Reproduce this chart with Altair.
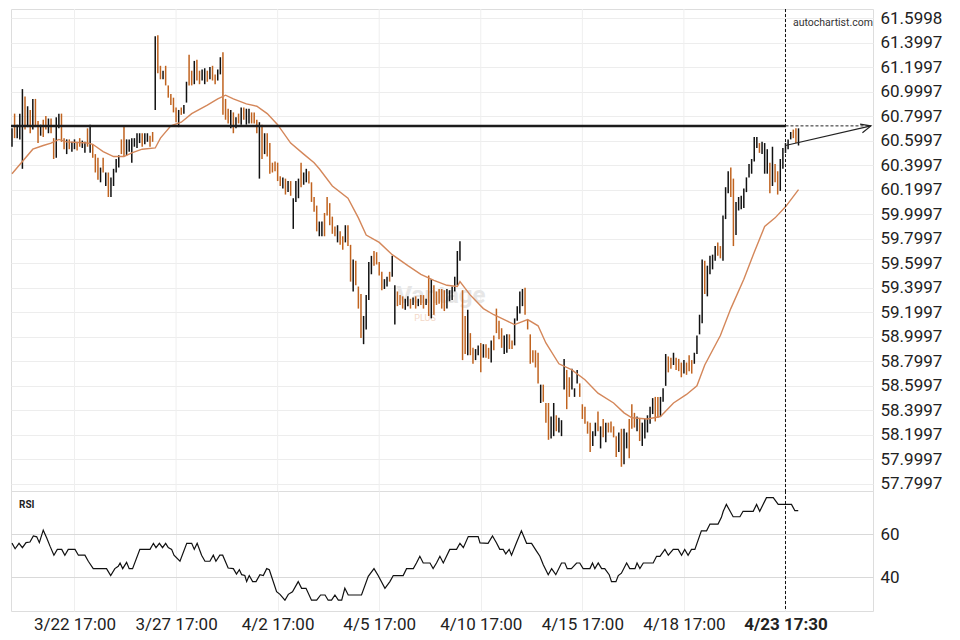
import altair as alt
import pandas as pd

# ---------------- data ----------------
tick_idx = [24, 63, 102, 141, 180, 219, 258, 297]
tick_lab = ["3/22 17:00", "3/27 17:00", "4/2 17:00", "4/5 17:00",
            "4/10 17:00", "4/15 17:00", "4/18 17:00", "4/23 17:30"]
price_ticks = [61.5998, 61.3997, 61.1997, 60.9997, 60.7997, 60.5997, 60.3997,
               60.1997, 59.9997, 59.7997, 59.5997, 59.3997, 59.1997, 58.9997,
               58.7997, 58.5997, 58.3997, 58.1997, 57.9997, 57.7997]
rsi_ticks = [60, 40]

level = 60.72
marker_idx = 297
arrow_idx = [297, 329.8]
arrow_val = [60.56, 60.72]

bar_high = [
    60.70, 60.82, 60.73, 60.82, 61.02, 60.96, 60.88, 60.85, 60.94, 60.94,
    60.76, 60.73, 60.77, 60.80, 60.78, 60.78, 60.62, 60.79, 60.82, 60.82,
    60.62, 60.61, 60.61, 60.59, 60.61, 60.59, 60.62, 60.60, 60.59, 60.70,
    60.73, 60.57, 60.49, 60.46, 60.38, 60.46, 60.34, 60.34, 60.30, 60.37,
    60.45, 60.48, 60.61, 60.72, 60.61, 60.61, 60.62, 60.62, 60.66, 60.66,
    60.66, 60.66, 60.66, 60.64, 60.67, 61.45, 61.46, 61.21, 61.17,
    61.21, 61.05, 60.98, 60.95, 60.87, 60.85, 60.87, 60.89, 61.08, 61.30,
    61.17, 61.25, 61.26, 61.17, 61.18, 61.19, 61.17, 61.20, 61.21, 61.14,
    61.18, 61.28, 61.32, 60.94, 60.86, 60.85, 60.83, 60.79, 60.82, 60.87,
    60.87, 60.86, 60.86, 60.83, 60.83, 60.77, 60.75, 60.73, 60.66, 60.66,
    60.58, 60.42, 60.43, 60.42, 60.31, 60.30, 60.29, 60.27, 60.27, 60.13,
    60.27, 60.29, 60.42, 60.34, 60.37, 60.35, 60.26, 60.14, 60.07, 59.94,
    59.94, 60.01, 60.14,
    60.09, 59.98, 59.90, 59.91, 59.86, 59.82, 59.91, 59.91, 59.75, 59.63,
    59.62, 59.41, 59.35, 59.17, 59.34, 59.61, 59.66, 59.70, 59.69, 59.61,
    59.53, 59.47, 59.49, 59.53, 59.66, 59.42, 59.37, 59.34, 59.33, 59.31,
    59.33, 59.31, 59.32, 59.33, 59.31, 59.34, 59.34, 59.31, 59.50, 59.47,
    59.42, 59.37, 59.39, 59.39, 59.38, 59.39, 59.38, 59.41, 59.49, 59.70,
    59.78,
    59.38, 59.17, 59.22, 59.03, 58.91, 58.90, 58.93, 58.95, 58.94, 58.94,
    58.91, 58.97, 59.01, 59.23, 59.13, 59.07, 59.01, 59.02, 59.02, 58.97,
    59.15, 59.25, 59.37, 59.39,
    59.40, 59.14, 59.02, 58.89, 58.89, 58.87, 58.61, 58.61, 58.46, 58.46,
    58.35, 58.46, 58.36, 58.34, 58.32, 58.82, 58.73, 58.67, 58.74, 58.58,
    58.73, 58.62, 58.45, 58.43, 58.31, 58.30, 58.23, 58.30, 58.39, 58.27,
    58.33, 58.30, 58.30, 58.31, 58.27, 58.19, 58.22, 58.25, 58.25, 58.22,
    58.33, 58.45, 58.38, 58.35, 58.33, 58.30, 58.33, 58.36,
    58.43, 58.50, 58.51, 58.51, 58.51, 58.58,
    58.86, 58.84, 58.83, 58.87, 58.83, 58.82, 58.79, 58.81, 58.79, 58.85,
    58.81, 58.87, 59.01, 59.18, 59.63, 59.62, 59.58, 59.66, 59.67, 59.74,
    59.77, 59.74, 59.99, 60.22, 60.35, 60.38, 60.29, 60.10, 60.14, 60.15,
    60.21, 60.30, 60.41, 60.45, 60.63, 60.63, 60.58, 60.59, 60.58, 60.53,
    60.42, 60.55, 60.41, 60.35, 60.45, 60.54, 60.58, 60.61, 60.67, 60.69,
    60.70, 60.70,
]
bar_low = [
    60.55, 60.62, 60.62, 60.61, 60.37, 60.69, 60.71, 60.66, 60.69, 60.71,
    60.58, 60.64, 60.63, 60.69, 60.66, 60.66, 60.45, 60.46, 60.70, 60.59,
    60.53, 60.49, 60.53, 60.51, 60.53, 60.52, 60.55, 60.54, 60.50, 60.55,
    60.50, 60.46, 60.34, 60.28, 60.26, 60.34, 60.23, 60.14, 60.14, 60.23,
    60.34, 60.38, 60.49, 60.47, 60.48, 60.51, 60.42, 60.55, 60.54, 60.58,
    60.55, 60.57, 60.59, 60.55, 60.59, 60.85, 61.15, 61.10, 61.10,
    61.05, 60.95, 60.89, 60.83, 60.75, 60.71, 60.81, 60.82, 60.91, 61.05,
    61.05, 61.06, 61.09, 61.06, 61.09, 61.06, 61.08, 61.10, 61.09, 61.06,
    61.09, 61.14, 60.81, 60.77, 60.74, 60.70, 60.66, 60.70, 60.74, 60.73,
    60.77, 60.73, 60.74, 60.74, 60.74, 60.66, 60.29, 60.45, 60.49, 60.47,
    60.33, 60.34, 60.35, 60.27, 60.23, 60.21, 60.16, 60.18, 60.15, 59.88,
    60.10, 60.13, 60.22, 60.24, 60.26, 60.25, 60.10, 60.02, 59.86, 59.82,
    59.82, 59.82, 59.99,
    59.91, 59.84, 59.82, 59.77, 59.75, 59.71, 59.77, 59.74, 59.45, 59.37,
    59.42, 59.23, 58.99, 58.94, 59.06, 59.30, 59.51, 59.58, 59.59, 59.50,
    59.38, 59.39, 59.41, 59.45, 59.49, 59.10, 59.25, 59.26, 59.23, 59.22,
    59.25, 59.23, 59.26, 59.23, 59.25, 59.26, 59.23, 59.26, 59.17, 59.15,
    59.18, 59.26, 59.27, 59.23, 59.21, 59.23, 59.29, 59.30, 59.37, 59.42,
    59.62,
    58.81, 58.86, 58.85, 58.85, 58.78, 58.81, 58.85, 58.71, 58.83, 58.83,
    58.82, 58.79, 58.89, 59.03, 58.98, 58.91, 58.86, 58.87, 58.90, 58.90,
    58.93, 59.13, 59.19, 59.25,
    59.18, 59.06, 58.78, 58.79, 58.75, 58.62, 58.46, 58.47, 58.30, 58.16,
    58.17, 58.19, 58.23, 58.22, 58.19, 58.57, 58.41, 58.51, 58.57, 58.51,
    58.62, 58.51, 58.33, 58.29, 58.21, 58.06, 58.11, 58.19, 58.23, 58.09,
    58.18, 58.14, 58.22, 58.22, 58.18, 58.02, 58.06, 57.94, 57.96, 58.09,
    58.01, 58.25, 58.26, 58.23, 58.15, 58.11, 58.17, 58.22,
    58.29, 58.37, 58.31, 58.34, 58.35, 58.47,
    58.60, 58.71, 58.74, 58.77, 58.73, 58.72, 58.67, 58.70, 58.69, 58.72,
    58.70, 58.78, 58.86, 59.02, 59.11, 59.35, 59.33, 59.51, 59.55, 59.62,
    59.66, 59.64, 59.62, 59.96, 60.17, 60.14, 59.74, 59.83, 60.03, 60.04,
    60.05, 60.18, 60.30, 60.33, 60.43, 60.54, 60.50, 60.49, 60.33, 60.33,
    60.17, 60.23, 60.26, 60.16, 60.19, 60.37, 60.50, 60.53, 60.61, 60.62,
    60.58, 60.56,
]
# u = rising bar (black), d = falling bar (orange)
bar_dir = list(
    "uduuududud" "duddudduud" "duduudduud" "udddududuu" "uudduuuuuu" "duudduddu"
    "ddddduduud" "dudduududd" "uudddududu" "duudddudud" "dddddududu" "uuduuddddu" "udd"
    "dddudduddu" "ddduuuuddd" "duuduudddu" "udududdudu" "ddddduuuuu" "u"
    "ddudduudud" "dudddduudd" "uuuu"
    "dddddduddd" "uuduuudduu" "uddddduudu" "dudddduduu" "ddduduuu"
    "uudduu"
    "uddudddudd" "duuuuduuuu" "dduuudduuu" "uuuuuuduuu" "dudduuuuud" "du"
)

ma_idx = [0, 4, 8, 12, 15, 18, 21, 29, 31, 35, 39, 43, 46, 50, 55, 57, 61, 65, 69, 75,
          79, 82, 85, 90, 94, 98, 102, 107, 112, 116, 118, 123, 129, 133, 136, 141, 146,
          152, 157, 162, 167, 171, 172, 176, 181, 185, 190, 193, 198, 202, 205, 210,
          215, 220, 225, 231, 235, 238, 244, 249, 254, 259, 263, 266, 272, 276, 281,
          285, 289, 293, 297, 302]
ma_val = [60.33, 60.43, 60.53, 60.56, 60.58, 60.61, 60.59, 60.58, 60.57, 60.51,
          60.47, 60.47, 60.50, 60.53, 60.54, 60.62, 60.72, 60.75, 60.82, 60.89,
          60.94, 60.97, 60.94, 60.90, 60.88, 60.82, 60.73, 60.58, 60.49, 60.42,
          60.37, 60.23, 60.13, 59.97, 59.83, 59.77, 59.67, 59.58, 59.51, 59.46,
          59.42, 59.41, 59.45, 59.34, 59.23, 59.18, 59.13, 59.10, 59.14, 59.09,
          58.95, 58.78, 58.73, 58.65, 58.54, 58.46, 58.38, 58.34, 58.33, 58.35,
          58.46, 58.53, 58.60, 58.77, 59.01, 59.23, 59.47, 59.69, 59.90, 59.97,
          60.06, 60.20]

rsi_idx = [0.0, 1.2, 2.7, 4.0, 5.4, 6.9, 8.2, 9.5, 10.5, 12.0,
           13.3, 14.6, 16.1, 17.4, 19.1, 20.3, 21.6, 24.2, 25.5, 28.0,
           29.3, 31.2, 36.3, 37.9, 39.5, 40.8, 41.5, 42.5, 44.0, 45.0,
           46.3, 49.1, 53.0, 54.3, 55.3, 56.6, 57.8, 59.0, 60.0, 61.3,
           62.2, 64.5, 67.1, 69.0, 70.0, 71.1, 72.8, 74.1, 76.0, 77.3,
           78.3, 79.8, 80.9, 83.0, 85.0, 86.2, 87.3, 88.2, 89.4, 90.1,
           91.1, 92.4, 93.7, 95.2, 96.5, 97.8, 98.8, 101.6, 102.9, 104.8,
           106.1, 107.7, 109.9, 111.2, 112.9, 115.0, 117.0, 118.5, 120.2, 121.4,
           122.7, 124.0, 125.3, 126.6, 127.8, 129.1, 134.2, 136.8, 139.0, 140.6,
           143.2, 145.1, 146.4, 150.2, 151.5, 154.1, 155.3, 156.6, 157.9, 160.5,
           161.7, 163.0, 164.3, 165.6, 168.1, 170.7, 172.0, 173.3, 175.2, 179.0,
           179.7, 182.8, 184.5, 186.0, 187.3, 188.6, 189.6, 190.9, 191.8, 193.7,
           195.6, 197.6, 199.5, 201.4, 202.7, 204.0, 205.9, 207.2, 208.8, 211.0,
           212.3, 213.2, 214.8, 216.8, 218.0, 219.3, 221.9, 222.9, 223.8, 225.1,
           226.4, 227.6, 229.3, 230.2, 231.9, 232.8, 234.0, 236.0, 237.2, 239.2,
           240.0, 241.1, 242.4, 246.2, 247.5, 248.8, 250.7, 252.0, 253.9, 255.8,
           257.1, 258.3, 259.6, 260.9, 262.2, 264.7, 266.7, 268.0, 271.1, 272.4,
           273.1, 274.3, 276.9, 279.5, 280.7, 284.6, 285.9, 287.1, 289.7, 292.3,
           294.2, 296.7, 299.3, 300.6, 301.9]
rsi_val = [55.9, 53.3, 55.8, 53.8, 56.1, 56.4, 59.2, 58.8, 56.1, 61.9,
           58.4, 54.5, 50.3, 53.0, 53.0, 50.3, 53.0, 53.0, 50.3, 50.3,
           47.5, 44.1, 44.1, 40.9, 44.1, 45.2, 46.7, 44.1, 47.0, 44.1,
           44.1, 53.0, 53.0, 55.8, 53.8, 55.8, 53.8, 55.8, 53.8, 53.0,
           50.3, 47.5, 55.8, 55.8, 53.0, 55.8, 50.3, 47.5, 47.5, 50.3,
           47.5, 50.3, 50.3, 44.4, 44.1, 41.6, 43.6, 41.3, 40.9, 38.1,
           40.9, 38.1, 38.1, 41.3, 40.9, 44.1, 43.6, 33.4, 32.2, 29.5,
           32.2, 33.4, 38.1, 35.0, 35.0, 29.5, 29.5, 31.9, 31.9, 29.5,
           29.5, 31.9, 29.5, 29.5, 35.0, 31.9, 31.9, 40.5, 44.1, 40.9,
           35.0, 38.1, 40.9, 40.9, 44.1, 44.1, 46.7, 49.8, 46.7, 46.7,
           44.1, 46.7, 49.8, 46.7, 53.0, 53.0, 55.8, 53.8, 58.9, 58.9,
           56.0, 55.8, 59.2, 56.1, 53.0, 53.0, 50.9, 53.0, 50.3, 56.1,
           61.6, 55.8, 55.8, 52.2, 49.8, 45.9, 41.3, 44.1, 41.3, 46.7,
           46.7, 44.1, 44.1, 46.7, 46.7, 44.1, 44.1, 46.7, 44.1, 46.7,
           44.1, 44.1, 41.3, 38.1, 38.1, 40.9, 42.0, 46.7, 44.1, 44.1,
           46.7, 44.1, 46.7, 46.7, 49.8, 49.8, 53.0, 50.3, 53.0, 53.0,
           50.3, 53.0, 50.3, 53.0, 53.0, 61.6, 61.6, 64.7, 64.7, 67.8,
           70.6, 73.8, 68.1, 68.1, 70.6, 70.6, 73.8, 70.6, 76.9, 76.9,
           73.8, 73.8, 73.8, 70.9, 70.9]

# ---------------- tables ----------------
bars = pd.DataFrame({"i": list(range(len(bar_high))), "high": bar_high,
                     "low": bar_low, "dir": bar_dir})
ma = pd.DataFrame({"i": ma_idx, "v": ma_val})
rsi = pd.DataFrame({"i": rsi_idx, "v": rsi_val})
ticks_df = pd.DataFrame({"i": tick_idx})
res_df = pd.DataFrame({"x0": [-0.38], "x1": [marker_idx], "y": [level]})
ext_df = pd.DataFrame({"x0": [marker_idx], "x1": [arrow_idx[1]], "y": [level]})
marker_df = pd.DataFrame({"i": [marker_idx]})
arrow_df = pd.DataFrame({"i": arrow_idx, "v": arrow_val, "o": [0, 1]})
head_df = pd.DataFrame({"i": [arrow_idx[1]], "v": [arrow_val[1]]})

# ---------------- scales and axes ----------------
W = 862
x_scale = alt.Scale(domain=[-0.38, 330.6], nice=False, zero=False)
p_scale = alt.Scale(domain=[57.7426, 61.6732], nice=False, zero=False)
r_scale = alt.Scale(domain=[24.5, 80], nice=False, zero=False)

label_expr = " : ".join(f"datum.value == {t} ? '{l}'" for t, l in zip(tick_idx, tick_lab)) + " : ''"

x_bot_axis = alt.Axis(values=tick_idx, labelExpr=label_expr, labelFontSize=17,
                      labelColor="#222222", ticks=False, tickSize=0, domain=False,
                      grid=True, gridColor="#efefef", labelPadding=5, title=None,
                      labelOverlap=False, labelFlush=False,
                      labelFontWeight={"condition": {"test": f"datum.value == {marker_idx}", "value": "bold"},
                                       "value": "normal"})
p_axis = alt.Axis(orient="right", values=price_ticks, format=".4f", labelFontSize=17,
                  labelColor="#222222", ticks=False, tickSize=0, domain=False,
                  grid=True, gridColor="#ededed", labelPadding=7, title=None,
                  labelOverlap=False)
r_axis = alt.Axis(orient="right", values=rsi_ticks, labelFontSize=17,
                  labelColor="#222222", ticks=False, tickSize=0, domain=False,
                  grid=True, gridColor="#d9d9d9", labelPadding=7, title=None,
                  labelOverlap=False)


def XT(f):
    return alt.X(f, type="quantitative", scale=x_scale, axis=None, title=None)


def XB(f):
    return alt.X(f, type="quantitative", scale=x_scale, axis=x_bot_axis, title=None)


def YP(f):
    return alt.Y(f, type="quantitative", scale=p_scale, axis=p_axis, title=None)


def YR(f):
    return alt.Y(f, type="quantitative", scale=r_scale, axis=r_axis, title=None)


# ---------------- price panel ----------------
vgrid = alt.Chart(ticks_df).mark_rule(color="#efefef", strokeWidth=1).encode(x=XT("i"))
wm1 = alt.Chart(pd.DataFrame({"t": ["Vantage"]})).mark_text(
    fontSize=24, fontWeight="bold", color="#e6e6e6", align="center", baseline="middle"
).encode(x=alt.value(430), y=alt.value(287), text="t:N")
wm2 = alt.Chart(pd.DataFrame({"t": ["PLUS"]})).mark_text(
    fontSize=9, color="#f3d8c8", align="center", baseline="middle"
).encode(x=alt.value(414), y=alt.value(309), text="t:N")

bar_layer = alt.Chart(bars).mark_rule(strokeWidth=1.5).encode(
    x=XT("i"), y=YP("low"), y2=alt.Y2("high"),
    color=alt.Color("dir:N", scale=alt.Scale(domain=["u", "d"], range=["#111111", "#c0631f"]),
                    legend=None),
)
ma_layer = alt.Chart(ma).mark_line(color="#d4875a", strokeWidth=1.4).encode(
    x=XT("i"), y=YP("v"))
res_layer = alt.Chart(res_df).mark_rule(color="#1c1c1c", strokeWidth=2.5).encode(
    x=XT("x0"), x2=alt.X2("x1"), y=YP("y"))
ext_layer = alt.Chart(ext_df).mark_rule(color="#222222", strokeWidth=1, strokeDash=[3, 2]).encode(
    x=XT("x0"), x2=alt.X2("x1"), y=YP("y"))
vline_top = alt.Chart(marker_df).mark_rule(color="#111111", strokeWidth=1, strokeDash=[3, 2]).encode(
    x=XT("i"))
arrow_layer = alt.Chart(arrow_df).mark_line(color="#222222", strokeWidth=1.2).encode(
    x=XT("i"), y=YP("v"), order="o:Q")
head_layer = alt.Chart(head_df).mark_point(
    shape="M-1,-0.45L0,0L-1,0.45", filled=False, size=400, angle=345,
    stroke="#222222", strokeWidth=1.2, opacity=1
).encode(x=XT("i"), y=YP("v"))
brand = alt.Chart(pd.DataFrame({"t": ["autochartist.com"]})).mark_text(
    fontSize=10.5, color="#333333", align="left", baseline="middle"
).encode(x=alt.value(782), y=alt.value(14), text="t:N")

price = alt.layer(vgrid, wm1, wm2, bar_layer, ma_layer, res_layer, ext_layer, vline_top,
                  arrow_layer, head_layer, brand).properties(width=W, height=482)

# ---------------- RSI panel ----------------
rsi_line = alt.Chart(rsi).mark_line(color="#111111", strokeWidth=1.2).encode(
    x=XB("i"), y=YR("v"))
vline_bot = alt.Chart(marker_df).mark_rule(color="#111111", strokeWidth=1, strokeDash=[3, 2]).encode(
    x=XB("i"))
rsi_lab = alt.Chart(pd.DataFrame({"t": ["RSI"]})).mark_text(
    fontSize=10, fontWeight="bold", color="#222222", align="left", baseline="middle"
).encode(x=alt.value(8), y=alt.value(14), text="t:N")

rsi_panel = alt.layer(rsi_line, vline_bot, rsi_lab).properties(width=W, height=120)

chart = alt.vconcat(price, rsi_panel, spacing=0, bounds="flush").properties(
    padding={"left": 0, "top": 0, "right": 5, "bottom": 0}
).configure_view(stroke=None).configure(font="Roboto").configure_axis(labelFont="Roboto")

chart.save("out.html", embed_options={"renderer": "svg", "actions": False})
